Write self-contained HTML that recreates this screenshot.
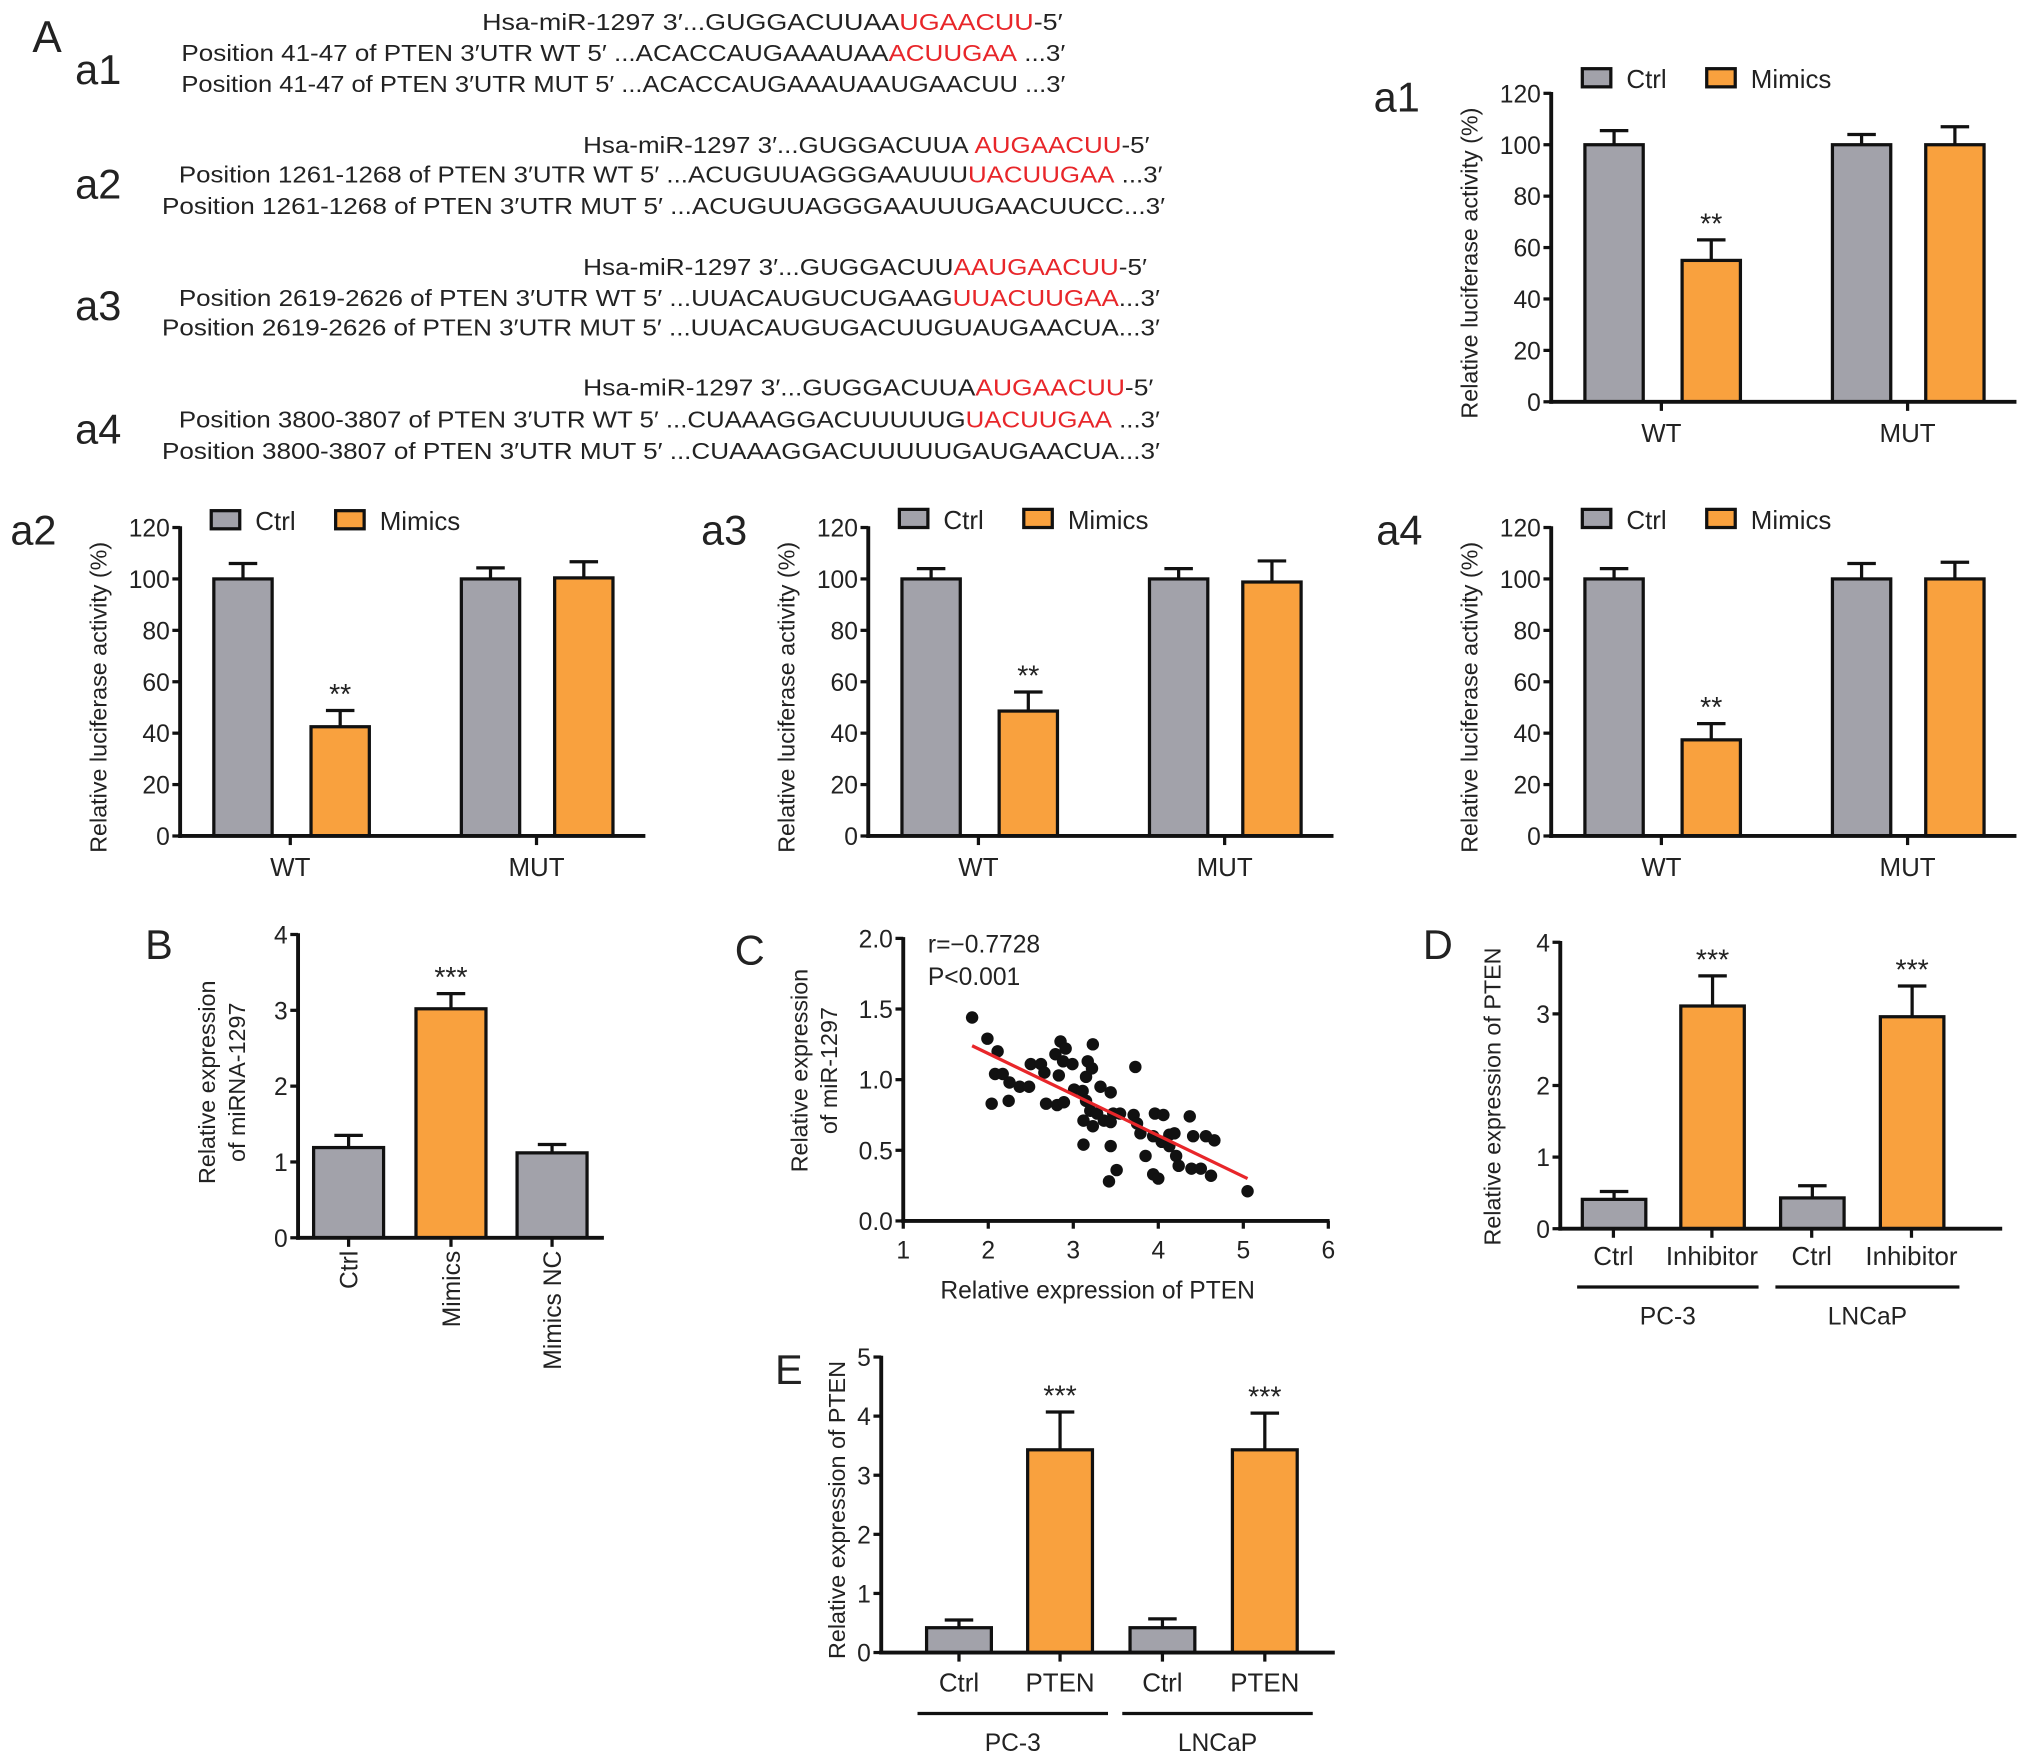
<!DOCTYPE html>
<html><head><meta charset="utf-8"><style>
html,body{margin:0;padding:0;background:#fff}
svg{display:block}
text{font-family:"Liberation Sans",Arial,sans-serif;fill:#222}
</style></head><body>
<svg id="fig" width="2032" height="1764" viewBox="0 0 1568 1361" preserveAspectRatio="none" xmlns="http://www.w3.org/2000/svg">
<g font-size="18">
<text x="25" y="40" font-size="34">A</text>
<text x="58" y="65" font-size="32">a1</text>
<text x="58" y="153" font-size="32">a2</text>
<text x="58" y="247" font-size="32">a3</text>
<text x="58" y="342" font-size="32">a4</text>

<text x="372" y="23" textLength="448" lengthAdjust="spacingAndGlyphs">Hsa-miR-1297 3′...GUGGACUUAA<tspan fill="#e8262a">UGAACUU</tspan>-5′</text>
<text x="140" y="47" textLength="682" lengthAdjust="spacingAndGlyphs">Position 41-47 of PTEN 3′UTR WT 5′  ...ACACCAUGAAAUAA<tspan fill="#e8262a">ACUUGAA</tspan> ...3′</text>
<text x="140" y="71" textLength="682" lengthAdjust="spacingAndGlyphs">Position 41-47 of PTEN 3′UTR MUT 5′  ...ACACCAUGAAAUAAUGAACUU ...3′</text>

<text x="450" y="118" textLength="437" lengthAdjust="spacingAndGlyphs">Hsa-miR-1297 3′...GUGGACUUA <tspan fill="#e8262a">AUGAACUU</tspan>-5′</text>
<text x="138" y="141" textLength="759" lengthAdjust="spacingAndGlyphs">Position 1261-1268 of PTEN 3′UTR WT 5′  ...ACUGUUAGGGAAUUU<tspan fill="#e8262a">UACUUGAA</tspan> ...3′</text>
<text x="125" y="165" textLength="774" lengthAdjust="spacingAndGlyphs">Position 1261-1268 of PTEN 3′UTR MUT 5′  ...ACUGUUAGGGAAUUUGAACUUCC...3′</text>

<text x="450" y="212" textLength="435" lengthAdjust="spacingAndGlyphs">Hsa-miR-1297 3′...GUGGACUU<tspan fill="#e8262a">AAUGAACUU</tspan>-5′</text>
<text x="138" y="236" textLength="757" lengthAdjust="spacingAndGlyphs">Position 2619-2626 of PTEN 3′UTR WT 5′ ...UUACAUGUCUGAAG<tspan fill="#e8262a">UUACUUGAA</tspan>...3′</text>
<text x="125" y="259" textLength="770" lengthAdjust="spacingAndGlyphs">Position 2619-2626 of PTEN 3′UTR MUT 5′ ...UUACAUGUGACUUGUAUGAACUA...3′</text>

<text x="450" y="305" textLength="440" lengthAdjust="spacingAndGlyphs">Hsa-miR-1297 3′...GUGGACUUA<tspan fill="#e8262a">AUGAACUU</tspan>-5′</text>
<text x="138" y="330" textLength="757" lengthAdjust="spacingAndGlyphs">Position 3800-3807 of PTEN 3′UTR WT 5′ ...CUAAAGGACUUUUUG<tspan fill="#e8262a">UACUUGAA</tspan> ...3′</text>
<text x="125" y="354" textLength="770" lengthAdjust="spacingAndGlyphs">Position 3800-3807 of PTEN 3′UTR MUT 5′ ...CUAAAGGACUUUUUGAUGAACUA...3′</text>
</g>
<g id="charts"></g>
</svg>
<script>
// ---- data ----
const lucCategories = ["WT","MUT"];
const lucSeries = ["Ctrl","Mimics"];
const lucTicks = [0,20,40,60,80,100,120];
const a1Values = [100,55,100,100];
const a1Errors = [105.5,63,104,107];
const a2Values = [100,42.5,100,100.4];
const a2Errors = [106,48.8,104.3,106.7];
const a3Values = [100,48.6,100,98.8];
const a3Errors = [104,56,104,107];
const a4Values = [100,37.4,100,100];
const a4Errors = [104,43.7,106,106.5];
const bCategories = ["Ctrl","Mimics","Mimics NC"];
const bValues = [1.19,3.02,1.12];
const bErrors = [1.35,3.22,1.23];
const bTicks = [0,1,2,3,4];
const dCategories = ["Ctrl","Inhibitor","Ctrl","Inhibitor"];
const dValues = [0.41,3.11,0.43,2.96];
const dErrors = [0.52,3.53,0.60,3.39];
const dTicks = [0,1,2,3,4];
const eCategories = ["Ctrl","PTEN","Ctrl","PTEN"];
const eValues = [0.42,3.43,0.42,3.43];
const eErrors = [0.55,4.07,0.57,4.05];
const eTicks = [0,1,2,3,4,5];
const groupLabels = ["PC-3","LNCaP"];
const scatterX = [1.81,1.99,2.11,2.08,2.17,2.25,2.04,2.24,2.37,2.48,2.50,2.62,2.66,2.68,2.81,2.89,2.85,2.91,2.79,2.88,2.99,2.83,3.01,3.11,3.15,3.17,3.22,3.23,3.32,3.44,3.15,3.20,3.28,3.12,3.23,3.36,3.47,3.55,3.44,3.12,3.44,3.51,3.42,3.71,3.73,3.75,3.79,3.85,3.96,4.06,3.94,4.04,3.94,4.00,4.13,4.19,4.13,4.21,4.24,4.37,4.41,4.39,4.50,4.56,4.66,4.62,5.05];
const scatterY = [1.44,1.29,1.20,1.04,1.04,0.98,0.83,0.85,0.95,0.95,1.11,1.11,1.05,0.83,0.82,0.84,1.27,1.22,1.18,1.13,1.11,1.03,0.93,0.92,1.02,1.13,1.08,1.25,0.95,0.91,0.85,0.78,0.76,0.71,0.67,0.71,0.76,0.76,0.70,0.54,0.53,0.36,0.28,0.75,1.09,0.69,0.62,0.46,0.76,0.75,0.60,0.56,0.33,0.30,0.61,0.62,0.53,0.46,0.39,0.74,0.60,0.37,0.37,0.60,0.57,0.32,0.21];
const fitLine = [[1.81,1.24],[5.05,0.30]];
const scatterXTicks = [1,2,3,4,5,6];
const scatterYTicks = ["0.0","0.5","1.0","1.5","2.0"];

const NS="http://www.w3.org/2000/svg";
const root=document.getElementById('charts');
const GRAY="#a2a2aa", ORANGE="#f9a13e";
function el(tag,attrs,parent){const e=document.createElementNS(NS,tag);for(const k in attrs)e.setAttribute(k,attrs[k]);(parent||root).appendChild(e);return e;}
function txt(s,attrs,parent){const e=el('text',attrs,parent);e.textContent=s;return e;}

function barPanel(p){
  const g=el('g',{});
  
  
  const ymax=p.ticks[p.ticks.length-1];
  const sy=v=>p.y0-(v/ymax)*(p.y0-p.ytop);
  p.values.forEach((v,i)=>{
    const x=p.ax+p.barOff[i], w=p.barW;
    const col=p.colors[i];
    const ey=sy(p.errors[i]);
    const l=el('line',{x1:x+w/2,x2:x+w/2,y1:sy(v),y2:ey,stroke:'#111','stroke-width':2.5},g);
    
    
    const c=el('line',{x1:x+w/2-11,x2:x+w/2+11,y1:ey,y2:ey,stroke:'#111','stroke-width':2.5},g);
    
    
    const r=el('rect',{x:x,y:sy(v),width:w,height:p.y0-sy(v),fill:col,stroke:'#111','stroke-width':2.5},g);
    
    
    if(p.stars[i]){const s=txt(p.stars[i],{x:x+w/2,y:ey-5,'text-anchor':'middle','font-size':22},g);
      
      }
  });
  const ya=el('line',{x1:p.ax,x2:p.ax,y1:p.ytop-1,y2:p.y0+1.5,stroke:'#111','stroke-width':3},g);
  
  
  const xa=el('line',{x1:p.ax-1.5,x2:p.xend,y1:p.y0,y2:p.y0,stroke:'#111','stroke-width':3},g);
  
  
  p.ticks.forEach(t=>{
    el('line',{x1:p.ax-6,x2:p.ax,y1:sy(t),y2:sy(t),stroke:'#111','stroke-width':2.5},g);
    const tl=txt(String(t),{x:p.ax-8,y:sy(t)+7,'text-anchor':'end','font-size':19},g);
    
    
  });
  p.xticks.forEach(xt=>el('line',{x1:p.ax+xt,x2:p.ax+xt,y1:p.y0,y2:p.y0+7,stroke:'#111','stroke-width':2.5},g));
  p.xlabels.forEach((lab,i)=>{
    let t;
    if(p.rot){t=txt(lab,{x:0,y:0,'text-anchor':'end','font-size':19,transform:`translate(${p.ax+p.xlabelX[i]+7},${p.y0+10}) rotate(-90)`},g);}
    else t=txt(lab,{x:p.ax+p.xlabelX[i],y:p.xlabelY,'text-anchor':'middle','font-size':20},g);
    
    
  });
  p.ylabel.forEach((s,i)=>{
    const t=txt(s,{x:0,y:0,'text-anchor':'middle','font-size':18,transform:`translate(${p.ylx+i*23},${p.yly}) rotate(-90)`},g);
    
    
  });
  const pl=txt(p.label,{x:p.lx,y:p.ly,'font-size':32},g);
  
  
  if(p.legend){
    lucSeries.forEach((s,i)=>{
      const lx=p.ax+[24,120][i];
      const lg=el('g',{},g);
      
      
      el('rect',{x:lx,y:p.legY-13,width:22,height:14,fill:i?ORANGE:GRAY,stroke:'#111','stroke-width':2.5},lg);
      txt(s,{x:lx+34,y:p.legY+2,'font-size':20},lg);
    });
  }
  if(p.groups){
    p.groups.forEach((gr,i)=>{
      const gl=el('line',{x1:gr[0],x2:gr[1],y1:p.groupY,y2:p.groupY,stroke:'#111','stroke-width':2.5},g);
      
      
      const t=txt(groupLabels[i],{x:(gr[0]+gr[1])/2,y:p.groupY+29,'text-anchor':'middle','font-size':19},g);
      
      
    });
  }
}
const lucColors=[GRAY,ORANGE,GRAY,ORANGE];
const lucOff=[26,101,217,289], lucX=[85,275];
function luc(name,label,ax,y0,ytop,vals,errs,lx,ly,legY){
  barPanel({name,label,ax,y0,ytop,values:vals,errors:errs,ticks:lucTicks,barOff:lucOff,barW:45,colors:lucColors,
    stars:["","**","",""],xend:ax+359,xticks:lucX,xlabels:lucCategories,xlabelX:lucX,xlabelY:y0+31,
    ylabel:["Relative luciferase activity (%)"],ylx:ax-57,yly:(y0+ytop)/2+12,lx,ly,legend:true,legY});
}
luc('chart-a1','a1',1197,310,72,a1Values,a1Errors,1060,86,66);
luc('chart-a2','a2',139,645,407,a2Values,a2Errors,8,420,407);
luc('chart-a3','a3',670,645,407,a3Values,a3Errors,541,420,406);
luc('chart-a4','a4',1197,645,407,a4Values,a4Errors,1062,420,406);

barPanel({name:'chart-b',label:'B',ax:230,y0:955,ytop:721,values:bValues,errors:bErrors,ticks:bTicks,barOff:[12,91,169],barW:54,
  colors:[GRAY,ORANGE,GRAY],stars:["","***",""],xend:466,xticks:[39,118,196],xlabels:bCategories,xlabelX:[39,118,196],rot:true,
  ylabel:["Relative expression","of miRNA-1297"],ylx:166,yly:835,lx:112,ly:740});
barPanel({name:'chart-d',label:'D',ax:1204,y0:948,ytop:727,values:dValues,errors:dErrors,ticks:dTicks,barOff:[17,93,170,247],barW:49,
  colors:lucColors,stars:["","***","","***"],xend:1545,xticks:[41,117,194,271],xlabels:dCategories,xlabelX:[41,117,194,271],xlabelY:976,
  ylabel:["Relative expression of PTEN"],ylx:1158,yly:846,lx:1098,ly:740,groups:[[1217,1357],[1370,1512]],groupY:993});
barPanel({name:'chart-e',label:'E',ax:680,y0:1275,ytop:1047,values:eValues,errors:eErrors,ticks:eTicks,barOff:[35,113,192,271],barW:50,
  colors:lucColors,stars:["","***","","***"],xend:1030,xticks:[60,138,217,296],xlabels:eCategories,xlabelX:[60,138,217,296],xlabelY:1305,
  ylabel:["Relative expression of PTEN"],ylx:652,yly:1165,lx:598,ly:1068,groups:[[708,855],[866,1013]],groupY:1322});

(function(){
  const g=el('g',{});
  
  
  const ax=697,y0=942,ytop=724,xr=1025;
  const sx=v=>ax+(v-1)/5*(xr-ax), sy=v=>y0-v/2*(y0-ytop);
  scatterX.forEach((x,i)=>{
    const c=el('circle',{cx:sx(x),cy:sy(scatterY[i]),r:4.8,fill:'#111'},g);
    
    
  });
  const fl=el('line',{x1:sx(fitLine[0][0]),y1:sy(fitLine[0][1]),x2:sx(fitLine[1][0]),y2:sy(fitLine[1][1]),stroke:'#e8262a','stroke-width':2.5},g);
  
  
  el('line',{x1:ax,x2:ax,y1:ytop-1,y2:y0+1.5,stroke:'#111','stroke-width':3},g);
  el('line',{x1:ax-1.5,x2:xr+1,y1:y0,y2:y0,stroke:'#111','stroke-width':3},g);
  scatterYTicks.forEach(t=>{const v=parseFloat(t);
    el('line',{x1:ax-6,x2:ax,y1:sy(v),y2:sy(v),stroke:'#111','stroke-width':2.5},g);
    const tl=txt(t,{x:ax-8,y:sy(v)+7,'text-anchor':'end','font-size':19},g);
    
    });
  scatterXTicks.forEach(t=>{
    el('line',{x1:sx(t),x2:sx(t),y1:y0,y2:y0+6,stroke:'#111','stroke-width':2.5},g);
    const tl=txt(String(t),{x:sx(t),y:y0+29,'text-anchor':'middle','font-size':19},g);
    
    });
  const xt=txt('Relative expression of PTEN',{x:847,y:1002,'text-anchor':'middle','font-size':19},g);
  
  
  ["Relative expression","of miR-1297"].forEach((s,i)=>{
    const t=txt(s,{x:0,y:0,'text-anchor':'middle','font-size':18,transform:`translate(${623+i*23},826) rotate(-90)`},g);
    
    });
  const r=txt('r=−0.7728',{x:716,y:735,'font-size':19},g);
  
  
  const pv=txt('P<0.001',{x:716,y:760,'font-size':19},g);
  
  
  const lab=txt('C',{x:567,y:744,'font-size':32},g);
  
  
})();
</script>
</body></html>
